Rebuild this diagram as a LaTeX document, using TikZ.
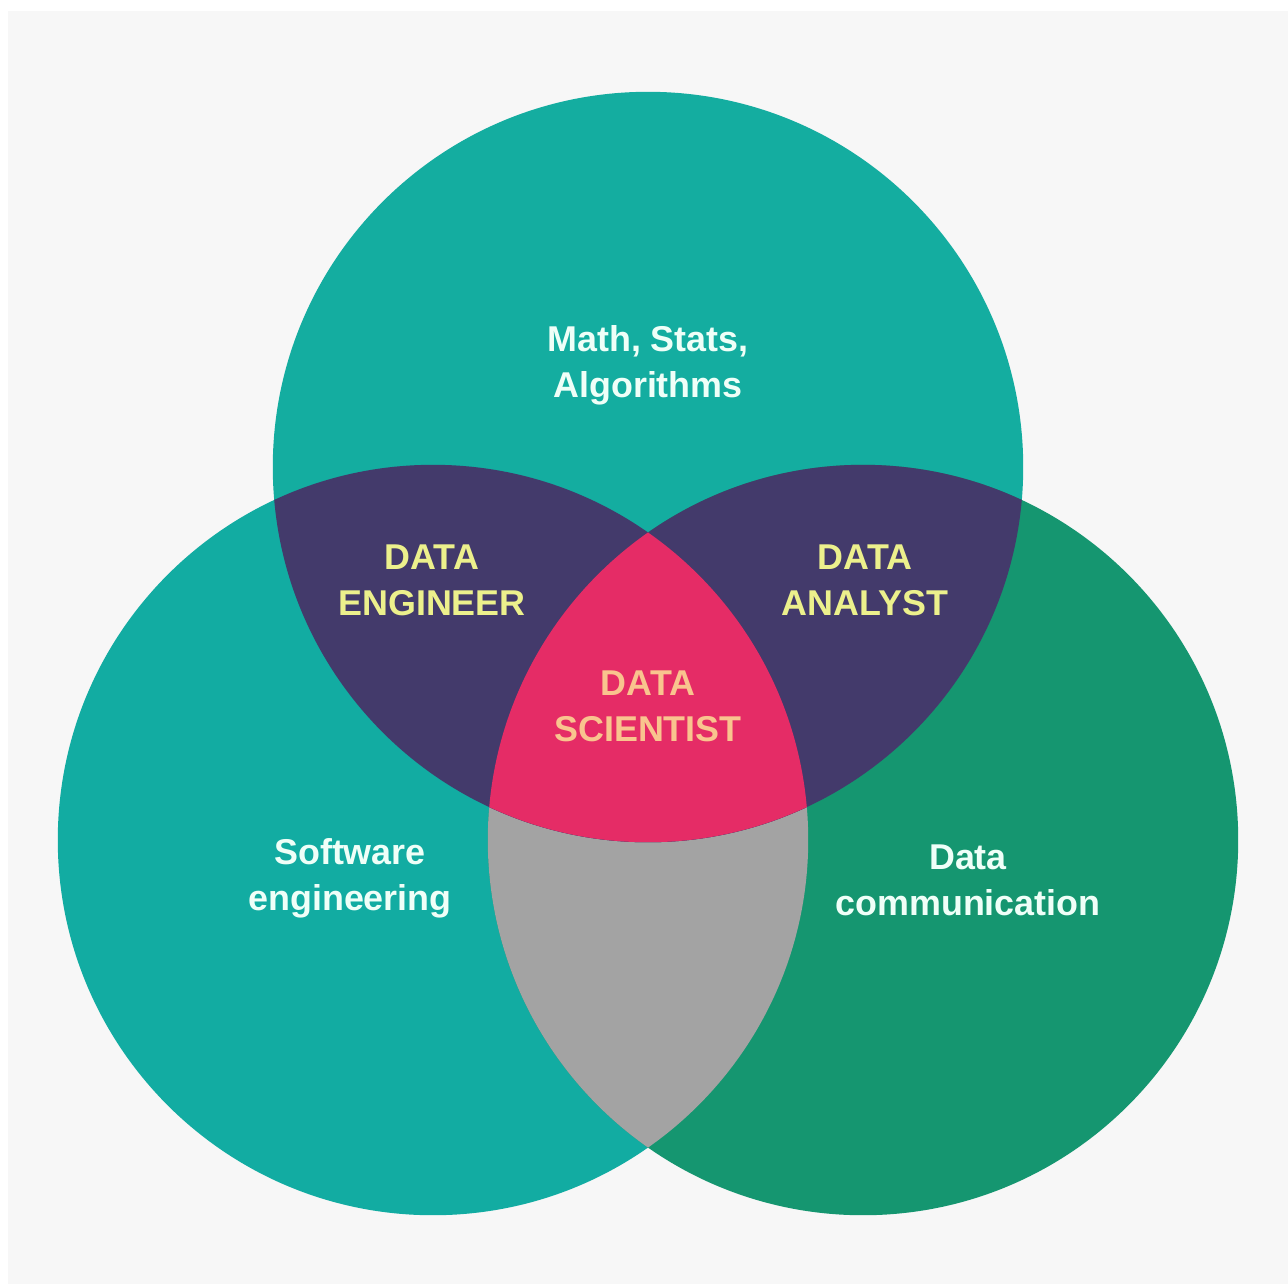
\documentclass[tikz,border=0pt]{standalone}
\usepackage{fontspec}
\setmainfont{Liberation Sans}
\definecolor{bgc}{HTML}{F7F7F7}
\definecolor{topc}{HTML}{14ADA0}
\definecolor{leftc}{HTML}{12ACA2}
\definecolor{rightc}{HTML}{159670}
\definecolor{purp}{HTML}{433A6B}
\definecolor{pinkc}{HTML}{E52C66}
\definecolor{grayc}{HTML}{A3A3A3}
\definecolor{whitetxt}{HTML}{EFFFF8}
\definecolor{yeltxt}{HTML}{ECF08C}
\definecolor{peachtxt}{HTML}{F9C48E}
\tikzset{
  lbl/.style={align=center, font=\fontsize{10.2}{13}\selectfont\bfseries, inner sep=0pt},
  whitelbl/.style={lbl, text=whitetxt},
  yellbl/.style={lbl, text=yeltxt},
  peachlbl/.style={lbl, text=peachtxt}
}
\begin{document}
\begin{tikzpicture}[x=0.01cm, y=-0.01cm]
\useasboundingbox (0,0) rectangle (1288,1284);
\fill[white] (0,0) rectangle (1288,1284);
\fill[bgc] (8,11) rectangle (1288,1284);
\def\topcirc{(648,467) circle[radius=3.75cm]}
\def\leftcirc{(433,840) circle[radius=3.75cm]}
\def\rightcirc{(863,840) circle[radius=3.75cm]}
% base circles
\fill[topc] \topcirc;
\fill[leftc] \leftcirc;
\fill[rightc] \rightcirc;
% left & right overlap
\begin{scope}
  \clip \leftcirc;
  \fill[grayc] \rightcirc;
\end{scope}
% top & left overlap
\begin{scope}
  \clip \topcirc;
  \fill[purp] \leftcirc;
  \fill[purp] \rightcirc;
\end{scope}
% triple overlap
\begin{scope}
  \clip \topcirc;
  \clip \leftcirc;
  \fill[pinkc] \rightcirc;
\end{scope}
% labels
\node[whitelbl] (math) at (648,365) {Math, Stats,\\Algorithms};
\node[yellbl] (eng) at (432,580) {DATA\\ENGINEER};
\node[yellbl] (ana) at (865,580) {DATA\\ANALYST};
\node[peachlbl] (sci) at (648,706) {DATA\\SCIENTIST};
\node[whitelbl] (soft) at (350,878) {Software\\engineering};
\node[whitelbl] (comm) at (968,880) {Data\\communication};
\end{tikzpicture}
\end{document}
